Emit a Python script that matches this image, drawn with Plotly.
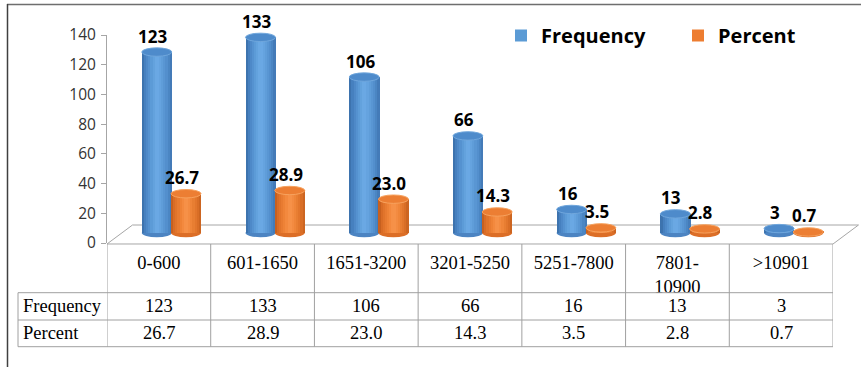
import plotly.graph_objects as go

# ---------------- data ----------------
categories = ["0-600", "601-1650", "1651-3200", "3201-5250", "5251-7800", "7801-10900", ">10901"]
tick_labels = ["0-600", "601-1650", "1651-3200", "3201-5250", "5251-7800", "7801-<br>10900", ">10901"]
frequency = [123, 133, 106, 66, 16, 13, 3]
percent = [26.7, 28.9, 23.0, 14.3, 3.5, 2.8, 0.7]
series_names = ["Frequency", "Percent"]

# ---------------- geometry / style ----------------
W, H = 861, 367
def PX(x):
    return x / W
def PY(y):
    return 1 - y / H

X_L, X_R = 107, 833          # plot x extent (px)
Y_ZERO, Y_TOP = 243, 35      # visible value axis (0 .. 140)
BAR_BASE_PX, BAR_SCALE = 233, 1.471   # perspective-shifted scale of the cylinders
n = len(categories)
unit_px = (X_R - X_L) / n
bar_w = 30 / unit_px
ry = 4.2 / BAR_SCALE          # ellipse vertical radius in y2 units
r0 = -(Y_ZERO - BAR_BASE_PX) / BAR_SCALE
r1 = r0 + Y_ZERO / BAR_SCALE

blue_stops = [(0.0, (0x38, 0x6C, 0xA6)), (0.12, (0x48, 0x82, 0xC2)), (0.35, (0x5F, 0x9E, 0xDA)),
              (0.5, (0x6D, 0xAB, 0xE6)), (0.65, (0x62, 0xA0, 0xDC)), (0.85, (0x50, 0x8C, 0xCA)),
              (1.0, (0x40, 0x76, 0xB2))]
orange_stops = [(0.0, (0xBE, 0x5A, 0x1C)), (0.12, (0xDC, 0x6E, 0x27)), (0.35, (0xF1, 0x85, 0x38)),
                (0.5, (0xF8, 0x94, 0x4C)), (0.65, (0xF1, 0x88, 0x3C)), (0.85, (0xE0, 0x73, 0x29)),
                (1.0, (0xC6, 0x60, 0x1F))]

def interp(stops, t):
    for (p0, c0), (p1, c1) in zip(stops[:-1], stops[1:]):
        if p0 <= t <= p1:
            f = (t - p0) / (p1 - p0) if p1 > p0 else 0
            c = [round(a + (b - a) * f) for a, b in zip(c0, c1)]
            return "rgb(%d,%d,%d)" % tuple(c)
    return "rgb(%d,%d,%d)" % stops[-1][1]

series = [
    dict(name=series_names[0], values=frequency, off=-0.02, base="#5B9BD5", stops=blue_stops,
         top="#4E8BCB", rim="#6FA6DC", bottom="#4C84C2", fmt=lambda v: "%d" % v),
    dict(name=series_names[1], values=percent, off=0.262, base="#ED7D31", stops=orange_stops,
         top="#EC7E33", rim="#F7A25E", bottom="#DC6E27", fmt=lambda v: "%.1f" % v),
]

xs = list(range(n))
fig = go.Figure()
shapes = []
annotations = []
N_STRIPES = 14

# empty trace so the visible value axis (y) gets drawn
fig.add_trace(go.Scatter(x=[None], y=[None], xaxis="x", yaxis="y", mode="markers",
                         showlegend=False, hoverinfo="skip"))

for s in series:
    left = s["off"] - bar_w / 2
    # base bar (also provides the legend entry)
    fig.add_trace(go.Bar(x=xs, y=s["values"], base=0, yaxis="y2", name=s["name"],
                         width=bar_w, offset=left, marker=dict(color=s["base"], line=dict(width=0)),
                         showlegend=True, hoverinfo="skip"))
    sw = bar_w / N_STRIPES
    for k in range(N_STRIPES):
        t = (k + 0.5) / N_STRIPES
        fig.add_trace(go.Bar(x=xs, y=s["values"], base=0, yaxis="y2",
                             width=sw * 1.15, offset=left + k * sw,
                             marker=dict(color=interp(s["stops"], t), line=dict(width=0)),
                             showlegend=False, hoverinfo="skip"))
    for i, v in enumerate(s["values"]):
        cx = i + s["off"]
        # bottom ellipse
        shapes.append(dict(type="circle", xref="x", yref="y2", layer="below",
                           x0=cx - bar_w / 2, x1=cx + bar_w / 2, y0=-ry, y1=ry,
                           fillcolor=s["bottom"], line=dict(width=0)))
        # top ellipse
        shapes.append(dict(type="circle", xref="x", yref="y2", layer="above",
                           x0=cx - bar_w / 2, x1=cx + bar_w / 2, y0=v - ry, y1=v + ry,
                           fillcolor=s["top"], line=dict(width=1, color=s["rim"])))
        annotations.append(dict(xref="x", yref="y2", x=cx, y=v, text=s["fmt"](v),
                                showarrow=False, yshift=16, xshift=-4,
                                font=dict(family="Open Sans", size=17, color="#000000", weight="bold")))

# ---------------- floor (3D base plane) ----------------
DX, DY = 25.5, 19
shapes.append(dict(type="path", xref="paper", yref="paper", layer="below",
                   path="M %f %f L %f %f L %f %f L %f %f Z" % (
                       PX(X_L), PY(Y_ZERO + 1), PX(X_R), PY(Y_ZERO + 1),
                       PX(X_R + DX), PY(Y_ZERO + 1 - DY), PX(X_L + DX), PY(Y_ZERO + 1 - DY)),
                   fillcolor="#FFFFFF", line=dict(color="#A6A6A6", width=1)))

# ---------------- data table ----------------
T_TOP, R1, R2, T_BOT, T_LEFT = 244, 292.7, 320, 346.7, 18
grid = dict(color="#A0A0A0", width=1)
for yy in (R1, R2, T_BOT):
    shapes.append(dict(type="line", xref="paper", yref="paper", x0=PX(T_LEFT), x1=PX(X_R),
                       y0=PY(yy), y1=PY(yy), line=grid))
shapes.append(dict(type="line", xref="paper", yref="paper", x0=PX(T_LEFT), x1=PX(T_LEFT),
                   y0=PY(R1), y1=PY(T_BOT), line=grid))
for b in range(n + 1):
    shapes.append(dict(type="line", xref="x", yref="paper", x0=b - 0.5, x1=b - 0.5,
                       y0=PY(T_TOP), y1=PY(T_BOT), line=grid))

table_font = dict(family="Liberation Serif, Times New Roman, serif", size=18.5, color="#000000")
row_rows = [(series_names[0], frequency, (R1 + R2) / 2, lambda v: "%d" % v),
            (series_names[1], percent, (R2 + T_BOT) / 2, lambda v: "%.1f" % v)]
for label, vals, yc, fmt in row_rows:
    annotations.append(dict(xref="paper", yref="paper", x=PX(21), y=PY(yc), text=label,
                            xanchor="left", yanchor="middle", showarrow=False, font=table_font))
    for i, v in enumerate(vals):
        annotations.append(dict(xref="x", yref="paper", x=i, y=PY(yc), text=fmt(v),
                                xanchor="center", yanchor="middle", showarrow=False, font=table_font))

# ---------------- outer frame ----------------
shapes.append(dict(type="line", xref="paper", yref="paper", x0=PX(7), x1=1, y0=PY(4.5), y1=PY(4.5),
                   line=dict(color="#6E6E6E", width=1.5)))
shapes.append(dict(type="line", xref="paper", yref="paper", x0=PX(7.5), x1=PX(7.5), y0=PY(4), y1=0,
                   line=dict(color="#404040", width=1.5)))

fig.update_layout(
    width=W, height=H,
    margin=dict(l=0, r=0, t=0, b=0, autoexpand=False),
    paper_bgcolor="#FFFFFF", plot_bgcolor="rgba(0,0,0,0)",
    barmode="overlay", bargap=0,
    xaxis=dict(domain=[PX(X_L), PX(X_R)], range=[-0.5, n - 0.5], anchor="y",
               tickmode="array", tickvals=xs, ticktext=tick_labels,
               showgrid=False, zeroline=False, showline=False, ticks="",
               ticklabelstandoff=6, tickfont=table_font, fixedrange=True, automargin=False),
    yaxis=dict(domain=[PY(Y_ZERO), PY(Y_TOP)], range=[0, 140], dtick=20, anchor="x",
               showgrid=False, zeroline=False, showline=True, linecolor="#A6A6A6", linewidth=1,
               ticks="outside", ticklen=5, tickcolor="#A6A6A6", ticklabelstandoff=2, automargin=False,
               tickfont=dict(family="Open Sans", size=15.5, color="#333333")),
    yaxis2=dict(domain=[PY(Y_ZERO), 1], range=[r0, r1], anchor="x", visible=False,
                showgrid=False, zeroline=False),
    legend=dict(orientation="h", x=PX(501), xanchor="left", y=PY(16), yanchor="top",
                entrywidth=132, entrywidthmode="pixels", bgcolor="rgba(0,0,0,0)",
                font=dict(family="Open Sans", size=20, color="#000000", weight="bold"),
                itemclick=False, itemdoubleclick=False),
    shapes=shapes,
    annotations=annotations,
    showlegend=True,
)

fig.write_html("out.html")
